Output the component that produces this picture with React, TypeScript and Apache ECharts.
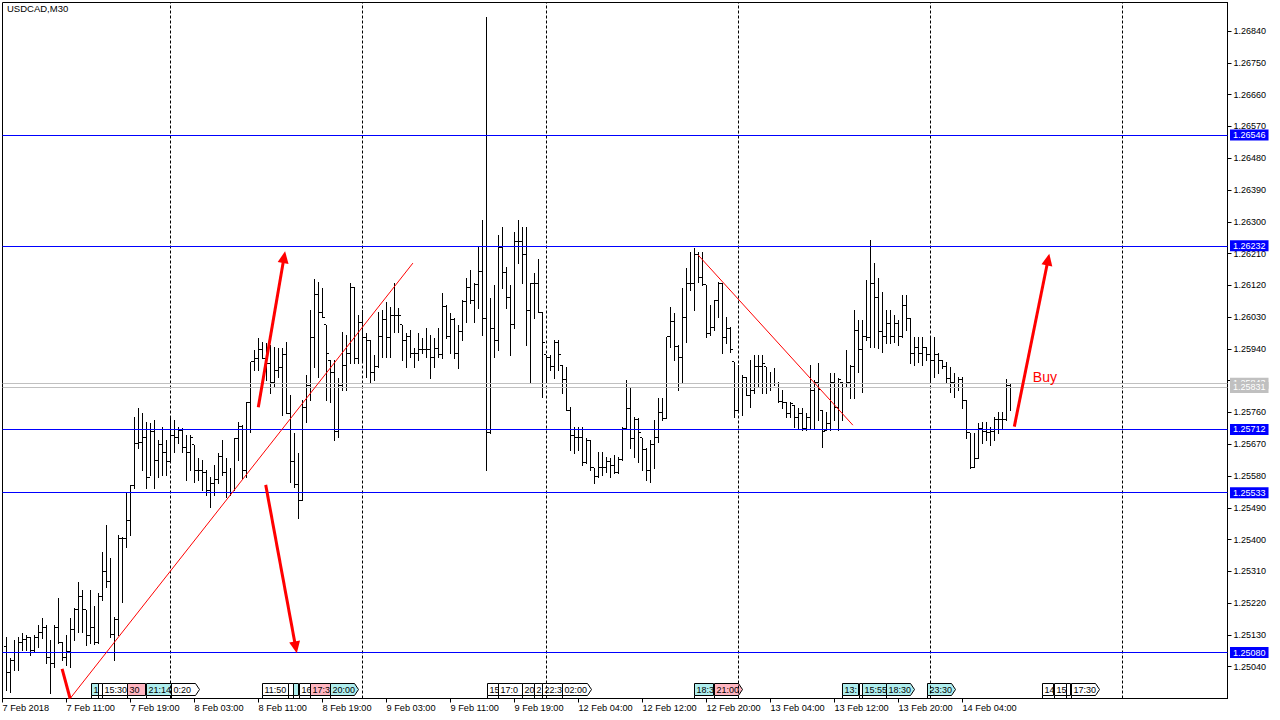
import React, { useEffect, useRef } from "react";
import * as echarts from "echarts";

// ---- OHLC bars (USDCAD, M30), bar index 0 .. 251 ----
const barOpen = [
1.25096,1.25025,1.25059,1.25079,1.25110,1.25116,1.25124,1.25087,1.25124,1.25136,
1.25150,1.25065,1.25050,1.25150,1.25110,1.25067,1.25082,1.25144,1.25201,1.25240,
1.25201,1.25127,1.25150,1.25110,1.25240,1.25309,1.25280,1.25130,1.25173,1.25404,
1.25404,1.25455,1.25552,1.25673,1.25676,1.25690,1.25577,1.25705,1.25625,1.25668,
1.25648,1.25620,1.25696,1.25690,1.25710,1.25662,1.25648,1.25668,1.25597,1.25597,
1.25589,1.25540,1.25560,1.25569,1.25634,1.25589,1.25532,1.25532,1.25685,1.25719,
1.25597,1.25787,1.25903,1.25914,1.25937,1.25914,1.25900,1.25846,1.25880,1.25886,
1.25925,1.25758,1.25620,1.25555,1.25512,1.25773,1.25835,1.25971,1.26095,1.26044,
1.26008,1.25908,1.25874,1.25705,1.25835,1.25894,1.25928,1.26115,1.25914,1.26016,
1.25971,1.25965,1.25874,1.25889,1.25974,1.26022,1.25971,1.26036,1.26036,1.26008,
1.25965,1.25974,1.25928,1.25928,1.25937,1.25937,1.25937,1.25917,1.25942,1.25923,
1.26059,1.25974,1.26022,1.25928,1.25988,1.26073,1.26115,1.26078,1.26121,1.26160,
1.26027,1.25702,1.25999,1.25965,1.26226,1.26155,1.26087,1.26008,1.26243,1.26243,
1.26206,1.26050,1.26124,1.26126,1.26044,1.25923,1.25917,1.25889,1.25959,1.25894,
1.25852,1.25767,1.25696,1.25690,1.25690,1.25617,1.25682,1.25603,1.25580,1.25603,
1.25603,1.25620,1.25611,1.25591,1.25628,1.25716,1.25770,1.25685,1.25739,1.25688,
1.25654,1.25597,1.25668,1.25688,1.25761,1.25744,1.25974,1.26019,1.25948,1.25917,
1.26030,1.26126,1.26126,1.26206,1.26143,1.26121,1.25985,1.26002,1.26078,1.26126,
1.25971,1.25999,1.25903,1.25767,1.25843,1.25860,1.25809,1.25823,1.25889,1.25889,
1.25889,1.25843,1.25843,1.25843,1.25790,1.25787,1.25758,1.25781,1.25747,1.25758,
1.25716,1.25747,1.25823,1.25846,1.25767,1.25710,1.25730,1.25846,1.25773,1.25846,
1.25832,1.25846,1.25889,1.25993,1.25937,1.25974,1.25971,1.26126,1.26087,1.25988,
1.25974,1.26013,1.25974,1.26013,1.25974,1.26064,1.26027,1.25928,1.25945,1.25928,
1.25945,1.25923,1.25908,1.25923,1.25908,1.25889,1.25857,1.25846,1.25832,1.25852,
1.25795,1.25702,1.25605,1.25631,1.25716,1.25705,1.25702,1.25705,1.25739,1.25741,
1.25739,1.25837
];
const barHigh = [
1.25124,1.25065,1.25116,1.25124,1.25136,1.25130,1.25124,1.25130,1.25158,1.25179,
1.25158,1.25116,1.25158,1.25236,1.25110,1.25130,1.25179,1.25206,1.25280,1.25257,
1.25201,1.25257,1.25212,1.25249,1.25365,1.25442,1.25348,1.25181,1.25413,1.25407,
1.25532,1.25555,1.25747,1.25773,1.25758,1.25733,1.25730,1.25739,1.25682,1.25719,
1.25682,1.25744,1.25739,1.25719,1.25716,1.25696,1.25696,1.25668,1.25631,1.25625,
1.25597,1.25577,1.25611,1.25645,1.25682,1.25631,1.25603,1.25688,1.25733,1.25724,
1.25790,1.25903,1.25937,1.25971,1.25959,1.25957,1.25951,1.25945,1.25942,1.25942,
1.25959,1.25809,1.25702,1.25645,1.25795,1.25866,1.26050,1.26138,1.26129,1.26112,
1.26008,1.25908,1.25908,1.25857,1.25988,1.25979,1.26126,1.26115,1.26036,1.26050,
1.25985,1.25965,1.25923,1.26044,1.26050,1.26073,1.26059,1.26126,1.26056,1.26008,
1.25985,1.25993,1.25942,1.25985,1.25971,1.25999,1.25979,1.25971,1.25999,1.26098,
1.26064,1.26042,1.26027,1.26008,1.26078,1.26141,1.26163,1.26126,1.26228,1.26305,
1.26880,1.26084,1.26121,1.26262,1.26285,1.26172,1.26121,1.26271,1.26305,1.26285,
1.26285,1.26126,1.26155,1.26194,1.26044,1.25923,1.25923,1.25965,1.25965,1.25894,
1.25889,1.25775,1.25719,1.25719,1.25719,1.25688,1.25682,1.25603,1.25648,1.25648,
1.25634,1.25631,1.25639,1.25634,1.25719,1.25852,1.25829,1.25747,1.25744,1.25688,
1.25659,1.25682,1.25739,1.25801,1.25801,1.25974,1.26059,1.26042,1.25951,1.26112,
1.26169,1.26214,1.26226,1.26214,1.26214,1.26121,1.26064,1.26078,1.26129,1.26126,
1.26030,1.26002,1.25903,1.25894,1.25866,1.25860,1.25908,1.25923,1.25923,1.25923,
1.25889,1.25874,1.25886,1.25846,1.25823,1.25790,1.25790,1.25781,1.25773,1.25773,
1.25758,1.25894,1.25852,1.25900,1.25767,1.25761,1.25872,1.25872,1.25857,1.25846,
1.25937,1.25894,1.26050,1.26022,1.26022,1.26135,1.26248,1.26183,1.26141,1.26101,
1.26050,1.26050,1.26036,1.26022,1.26092,1.26092,1.26027,1.25974,1.25974,1.25974,
1.25945,1.25974,1.25974,1.25928,1.25908,1.25903,1.25889,1.25872,1.25860,1.25860,
1.25795,1.25702,1.25702,1.25730,1.25733,1.25733,1.25719,1.25747,1.25761,1.25761,
1.25855,1.25843
];
const barLow = [
1.24974,1.24968,1.25031,1.25031,1.25087,1.25087,1.25073,1.25082,1.25096,1.25121,
1.25050,1.24966,1.25039,1.25107,1.25059,1.25045,1.25039,1.25116,1.25139,1.25139,
1.25101,1.25107,1.25104,1.25107,1.25229,1.25266,1.25124,1.25059,1.25130,1.25223,
1.25379,1.25413,1.25546,1.25659,1.25597,1.25546,1.25583,1.25546,1.25577,1.25583,
1.25583,1.25620,1.25648,1.25673,1.25648,1.25569,1.25597,1.25563,1.25569,1.25540,
1.25526,1.25492,1.25526,1.25560,1.25583,1.25521,1.25526,1.25540,1.25625,1.25574,
1.25577,1.25705,1.25880,1.25880,1.25914,1.25852,1.25815,1.25832,1.25860,1.25753,
1.25758,1.25563,1.25549,1.25461,1.25512,1.25733,1.25795,1.25889,1.25860,1.26030,
1.25795,1.25790,1.25682,1.25690,1.25823,1.25823,1.25900,1.25900,1.25900,1.25908,
1.25860,1.25846,1.25852,1.25889,1.25917,1.25917,1.25917,1.25988,1.25988,1.25908,
1.25889,1.25917,1.25889,1.25908,1.25928,1.25917,1.25857,1.25889,1.25917,1.25914,
1.25971,1.25928,1.25914,1.25886,1.25965,1.26016,1.26070,1.26016,1.26056,1.25979,
1.25597,1.25702,1.25917,1.25937,1.26112,1.26056,1.25923,1.25999,1.26183,1.26126,
1.25951,1.25843,1.26027,1.26044,1.25804,1.25843,1.25880,1.25857,1.25880,1.25815,
1.25767,1.25654,1.25645,1.25654,1.25611,1.25617,1.25597,1.25560,1.25577,1.25583,
1.25591,1.25577,1.25589,1.25589,1.25625,1.25716,1.25659,1.25634,1.25620,1.25597,
1.25569,1.25563,1.25603,1.25676,1.25739,1.25744,1.25945,1.25908,1.25823,1.25843,
1.25959,1.26107,1.26050,1.26129,1.26121,1.25974,1.25979,1.25993,1.26030,1.25928,
1.25957,1.25931,1.25747,1.25767,1.25753,1.25809,1.25775,1.25815,1.25832,1.25815,
1.25815,1.25823,1.25837,1.25790,1.25773,1.25747,1.25747,1.25719,1.25716,1.25710,
1.25710,1.25716,1.25716,1.25739,1.25662,1.25710,1.25710,1.25739,1.25710,1.25739,
1.25832,1.25801,1.25801,1.25874,1.25818,1.25965,1.25945,1.25945,1.25942,1.25931,
1.25957,1.25957,1.25959,1.25951,1.25974,1.25993,1.25900,1.25894,1.25903,1.25894,
1.25908,1.25843,1.25860,1.25872,1.25886,1.25843,1.25818,1.25804,1.25823,1.25773,
1.25688,1.25603,1.25605,1.25631,1.25673,1.25682,1.25668,1.25682,1.25702,1.25716,
1.25739,1.25767
];
const barClose = [
1.25025,1.25059,1.25079,1.25110,1.25116,1.25124,1.25087,1.25124,1.25136,1.25150,
1.25065,1.25050,1.25150,1.25110,1.25067,1.25082,1.25144,1.25201,1.25240,1.25201,
1.25127,1.25150,1.25110,1.25240,1.25309,1.25280,1.25130,1.25173,1.25404,1.25404,
1.25455,1.25552,1.25673,1.25676,1.25690,1.25577,1.25705,1.25625,1.25668,1.25648,
1.25620,1.25696,1.25690,1.25710,1.25662,1.25648,1.25688,1.25597,1.25597,1.25589,
1.25540,1.25560,1.25569,1.25634,1.25589,1.25532,1.25532,1.25685,1.25719,1.25597,
1.25787,1.25903,1.25914,1.25937,1.25914,1.25900,1.25846,1.25880,1.25886,1.25925,
1.25758,1.25620,1.25555,1.25512,1.25773,1.25835,1.25971,1.26095,1.26044,1.26030,
1.25928,1.25874,1.25705,1.25835,1.25894,1.25928,1.26115,1.25914,1.26016,1.25971,
1.25965,1.25874,1.25889,1.25974,1.26022,1.25971,1.26036,1.26036,1.26036,1.25965,
1.25974,1.25928,1.25928,1.25937,1.25937,1.25937,1.25917,1.25942,1.25923,1.26059,
1.25974,1.26022,1.25928,1.25988,1.26073,1.26115,1.26078,1.26121,1.26160,1.26027,
1.25702,1.25999,1.25965,1.26226,1.26155,1.26087,1.26008,1.26243,1.26243,1.26206,
1.26050,1.26124,1.26126,1.26044,1.25957,1.25917,1.25889,1.25959,1.25923,1.25852,
1.25767,1.25696,1.25690,1.25690,1.25617,1.25682,1.25603,1.25580,1.25603,1.25603,
1.25620,1.25611,1.25591,1.25628,1.25716,1.25770,1.25685,1.25739,1.25702,1.25654,
1.25597,1.25668,1.25688,1.25761,1.25744,1.25974,1.26019,1.25948,1.25917,1.26030,
1.26126,1.26126,1.26206,1.26143,1.26121,1.25985,1.26002,1.26078,1.26126,1.25971,
1.25999,1.25937,1.25767,1.25843,1.25860,1.25809,1.25823,1.25889,1.25889,1.25900,
1.25843,1.25843,1.25843,1.25790,1.25787,1.25758,1.25784,1.25747,1.25758,1.25716,
1.25747,1.25823,1.25846,1.25826,1.25705,1.25730,1.25846,1.25773,1.25852,1.25832,
1.25846,1.25889,1.25993,1.25937,1.25974,1.25971,1.26126,1.26087,1.25988,1.25974,
1.26013,1.25974,1.26013,1.25974,1.26064,1.26027,1.25928,1.25945,1.25928,1.25945,
1.25923,1.25908,1.25923,1.25908,1.25889,1.25857,1.25846,1.25832,1.25852,1.25795,
1.25702,1.25605,1.25631,1.25716,1.25705,1.25702,1.25705,1.25739,1.25741,1.25739,
1.25837,1.25831
];

// ---- axes ----
const priceTicks = [
  1.2504, 1.2513, 1.2522, 1.2531, 1.254, 1.2549, 1.2558, 1.2567, 1.2576, 1.2585,
  1.2594, 1.2603, 1.2612, 1.2621, 1.263, 1.2639, 1.2648, 1.2657, 1.2666, 1.2675, 1.2684,
];
const timeTickIdx = [-1, 15, 31, 47, 63, 79, 95, 111, 127, 143, 159, 175, 191, 207, 223, 239];
const timeTickLabels = [
  "7 Feb 2018", "7 Feb 11:00", "7 Feb 19:00", "8 Feb 03:00", "8 Feb 11:00", "8 Feb 19:00",
  "9 Feb 03:00", "9 Feb 11:00", "9 Feb 19:00", "12 Feb 04:00", "12 Feb 12:00", "12 Feb 20:00",
  "13 Feb 04:00", "13 Feb 12:00", "13 Feb 20:00", "14 Feb 04:00",
];
const dayBreakIdx = [41, 89, 135, 183, 231, 279];

// ---- levels & drawings ----
const levelPrices = [1.26546, 1.26232, 1.25712, 1.25533, 1.2508];
const askPrice = 1.25843;
const bidPrice = 1.25831;
const trendLines = [
  [[15.9, 1.2495], [101.6, 1.26183]],
  [[172.9, 1.26206], [211.6, 1.25724]],
];
const arrowLines = [
  [[62.95, 1.25775], [69.4, 1.262]],
  [[64.8, 1.25555], [72.3, 1.25095]],
  [[251.95, 1.2572], [260.4, 1.26193]],
];
const thickStrokes = [[[13.9, 1.25034], [15.9, 1.2495]]];
const buyIdx = 259.6;
const buyPrice = 1.2586;
const buyText = "Buy";

// ---- calendar event markers ----
const eventStart = [21.0, 22.9, 23.9, 30.1, 34.9, 41.1, 63.9, 70.4, 71.6, 73.1, 75.9, 80.9, 120.1, 122.9, 128.9, 131.9, 133.9, 138.9, 171.9, 176.9, 208.9, 213.1, 213.9, 219.9, 230.1, 258.9, 261.9, 264.9, 266.1];
const eventEnd = [22.9, 23.75, 30.1, 34.6, 41.1, 48.1, 70.4, 71.6, 72.9, 75.9, 80.9, 87.9, 122.9, 128.9, 131.9, 133.9, 138.9, 146.1, 176.6, 183.9, 212.9, 213.9, 219.9, 226.9, 237.1, 261.6, 264.9, 265.9, 273.1];
const eventText = ["1", "", "15:30", "30", "21:14", "0:20", "11:50", "", "", "16", "17:3", "20:00", "15", "17:0", "20", "2", "22:3", "02:00", "18:3", "21:00", "13:", "", "15:55", "18:30", "23:30", "14", "15", "", "17:30"];
const eventKind = [1, 0, 0, 2, 1, 0, 0, 0, 1, 0, 2, 1, 0, 0, 0, 0, 0, 0, 1, 2, 1, 0, 1, 1, 1, 0, 0, 0, 0];
const eventArrow = [0, 0, 0, 0, 0, 1, 0, 0, 0, 0, 0, 1, 0, 0, 0, 0, 0, 1, 0, 1, 0, 0, 0, 1, 1, 0, 0, 0, 1];

const Y_MIN = 1.2495;
const Y_MAX = 1.26921;
const X_MIN = -1;
const X_MAX = 305.25;
const FONT = "Liberation Sans, Arial, sans-serif";
const eventFill = ["#FFFFFF", "#AFEEEE", "#FFB6C1"];

export default function App() {
  const ref = useRef<HTMLDivElement>(null);

  useEffect(() => {
    if (!ref.current) return;
    const chart = echarts.init(ref.current, undefined, { renderer: "svg" });

    const ohlcData = barOpen.map((o, i) => [i, o, barHigh[i], barLow[i], barClose[i]]);
    const eventData = eventStart.map((s, k) => [s, eventEnd[k], eventKind[k], eventArrow[k]]);

    const levelLabel = (bg: string) => ({
      show: true,
      position: "end",
      distance: 2.5,
      formatter: (p: any) => Number(p.value).toFixed(5),
      color: "#FFFFFF",
      backgroundColor: bg,
      padding: [1, 3, 0, 3],
      fontSize: 9,
      lineHeight: 10,
      fontFamily: FONT,
    });

    const markLineData: any[] = [];
    dayBreakIdx.forEach((d) =>
      markLineData.push({
        xAxis: d,
        lineStyle: { color: "#000", width: 1, type: [3, 2] },
        label: { show: false },
      })
    );
    levelPrices.forEach((p) =>
      markLineData.push({
        yAxis: p,
        lineStyle: { color: "#0000FF", width: 1, type: "solid" },
        label: levelLabel("#0000FF"),
      })
    );
    markLineData.push({
      yAxis: askPrice,
      lineStyle: { color: "#C0C0C0", width: 1, type: "solid" },
      label: levelLabel("#C0C0C0"),
    });
    markLineData.push({
      yAxis: bidPrice,
      lineStyle: { color: "#C0C0C0", width: 1, type: "solid" },
      label: levelLabel("#C0C0C0"),
    });
    trendLines.forEach((t) =>
      markLineData.push([
        { coord: t[0], symbol: "none", lineStyle: { color: "#FF0000", width: 1, type: "solid" }, label: { show: false } },
        { coord: t[1], symbol: "none" },
      ])
    );
    thickStrokes.forEach((t) =>
      markLineData.push([
        { coord: t[0], symbol: "none", lineStyle: { color: "#FF0000", width: 3, type: "solid" }, label: { show: false } },
        { coord: t[1], symbol: "none" },
      ])
    );
    arrowLines.forEach((t) =>
      markLineData.push([
        { coord: t[0], symbol: "none", lineStyle: { color: "#FF0000", width: 3, type: "solid" }, label: { show: false } },
        { coord: t[1], symbol: "triangle", symbolSize: [11, 12], itemStyle: { color: "#FF0000" } },
      ])
    );

    chart.setOption({
      animation: false,
      backgroundColor: "#FFFFFF",
      textStyle: { fontFamily: FONT },
      title: {
        text: "USDCAD,M30",
        left: 7,
        top: 3,
        padding: 0,
        textStyle: { fontSize: 9.5, fontWeight: "normal", color: "#000", fontFamily: FONT },
      },
      grid: {
        left: 2.5,
        right: 52.5,
        top: 2.5,
        bottom: 21.5,
        show: true,
        borderColor: "#000",
        borderWidth: 1,
        backgroundColor: "#FFFFFF",
        containLabel: false,
        outerBoundsMode: "none",
      },
      xAxis: {
        type: "value",
        min: X_MIN,
        max: X_MAX,
        splitLine: { show: false },
        axisLine: { show: true, onZero: false, lineStyle: { color: "#000", width: 1 } },
        axisTick: { show: true, customValues: timeTickIdx, length: 4, lineStyle: { color: "#000" } },
        axisLabel: {
          customValues: timeTickIdx,
          formatter: (v: number) => {
            const k = timeTickIdx.findIndex((t) => Math.abs(t - v) < 1e-6);
            return k >= 0 ? timeTickLabels[k] : "";
          },
          align: "left",
          margin: 5,
          color: "#000",
          fontSize: 9.2,
          fontFamily: FONT,
          showMinLabel: true,
          showMaxLabel: true,
          hideOverlap: false,
        },
      },
      yAxis: {
        type: "value",
        position: "right",
        min: Y_MIN,
        max: Y_MAX,
        scale: true,
        splitLine: { show: false },
        axisLine: { show: true, onZero: false, lineStyle: { color: "#000", width: 1 } },
        axisTick: { show: true, inside: false, length: 4, customValues: priceTicks, lineStyle: { color: "#000" } },
        axisLabel: {
          customValues: priceTicks,
          formatter: (v: number) => v.toFixed(5),
          margin: 6,
          color: "#000",
          fontSize: 9,
          fontFamily: FONT,
          showMinLabel: true,
          showMaxLabel: true,
        },
      },
      series: [
        {
          type: "line",
          data: [],
          silent: true,
          symbol: "none",
          z: 1,
          markLine: {
            silent: true,
            symbol: ["none", "none"],
            animation: false,
            precision: 5,
            data: markLineData,
          },
          markPoint: {
            silent: true,
            animation: false,
            data: [
              {
                coord: [buyIdx, buyPrice],
                symbol: "circle",
                symbolSize: 1,
                itemStyle: { color: "rgba(0,0,0,0)" },
                label: {
                  show: true,
                  position: "inside",
                  formatter: buyText,
                  color: "#FF0000",
                  fontSize: 14,
                  fontFamily: FONT,
                },
              },
            ],
          },
        },
        {
          type: "custom",
          coordinateSystem: "cartesian2d",
          silent: true,
          clip: true,
          z: 3,
          encode: { x: 0, y: [1, 2, 3, 4] },
          data: ohlcData,
          renderItem: (params: any, api: any) => {
            const i = api.value(0);
            const pO = api.coord([i, api.value(1)]);
            const pH = api.coord([i, api.value(2)]);
            const pL = api.coord([i, api.value(3)]);
            const pC = api.coord([i, api.value(4)]);
            const x = Math.round(pO[0] - 0.5) + 0.5;
            const yH = Math.round(pH[1]);
            const yL = Math.round(pL[1]) + 1;
            const yO = Math.round(pO[1] - 0.5) + 0.5;
            const yC = Math.round(pC[1] - 0.5) + 0.5;
            const st = { stroke: "#000", lineWidth: 1 };
            return {
              type: "group",
              children: [
                { type: "line", shape: { x1: x, y1: yH, x2: x, y2: yL }, style: st },
                { type: "line", shape: { x1: x - 2.5, y1: yO, x2: x - 0.5, y2: yO }, style: st },
                { type: "line", shape: { x1: x + 0.5, y1: yC, x2: x + 2.5, y2: yC }, style: st },
              ],
            };
          },
        },
        {
          type: "custom",
          coordinateSystem: "cartesian2d",
          silent: true,
          clip: false,
          z: 4,
          data: eventData,
          renderItem: (params: any, api: any) => {
            const k = params.dataIndex;
            const a = api.coord([api.value(0), Y_MIN]);
            const b = api.coord([api.value(1), Y_MIN]);
            const base = Math.floor(a[1]);
            const x0 = Math.round(a[0]) + 0.5;
            const x1 = Math.round(b[0]) + 0.5;
            const yT = base - 14.5;
            const yB = base - 2.5;
            const yM = (yT + yB) / 2;
            const pts = api.value(3)
              ? [[x0, yT], [x1 - 4, yT], [x1, yM], [x1 - 4, yB], [x0, yB]]
              : [[x0, yT], [x1, yT], [x1, yB], [x0, yB]];
            return {
              type: "group",
              children: [
                {
                  type: "polygon",
                  shape: { points: pts },
                  style: { fill: eventFill[api.value(2)], stroke: "#000", lineWidth: 1 },
                },
                {
                  type: "text",
                  x: x0 + 2,
                  y: yM + 0.5,
                  style: {
                    text: eventText[k],
                    fill: "#000",
                    fontSize: 9,
                    fontFamily: FONT,
                    align: "left",
                    verticalAlign: "middle",
                  },
                },
                {
                  type: "line",
                  shape: { x1: x0, y1: yB, x2: x0, y2: base + 0.5 },
                  style: { stroke: "#000", lineWidth: 1 },
                },
              ],
            };
          },
        },
      ],
    });

    return () => chart.dispose();
  }, []);

  return (
    <div
      ref={ref}
      style={{ position: "fixed", left: 0, top: 0, width: 1280, height: 720, background: "#fff" }}
    />
  );
}
